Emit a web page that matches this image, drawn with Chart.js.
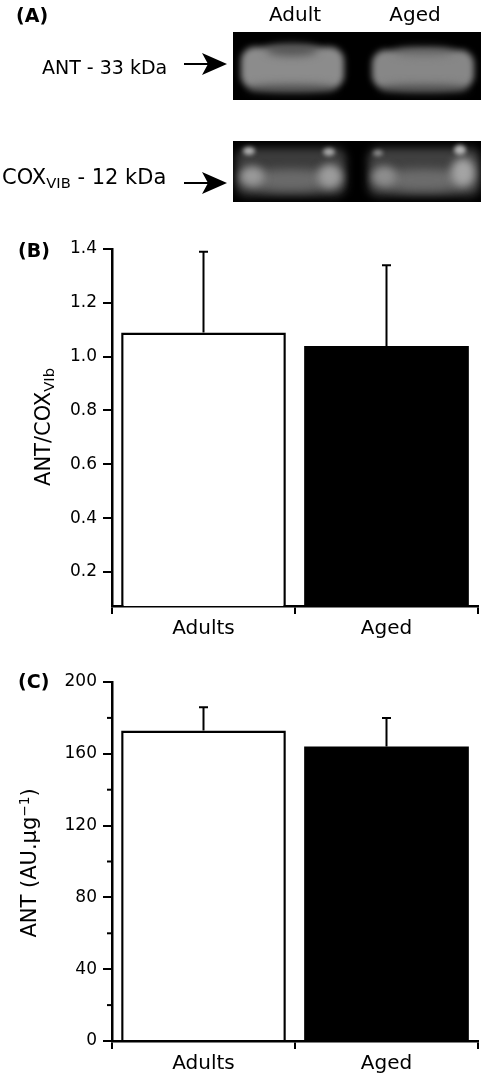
<!DOCTYPE html>
<html>
<head>
<meta charset="utf-8">
<script src="https://cdn.jsdelivr.net/npm/chart.js@4.4.0/dist/chart.umd.min.js"></script>
<style>
  html, body { margin: 0; padding: 0; background: #fff; }
  body { width: 481px; height: 1078px; position: relative; overflow: hidden;
         font-family: "DejaVu Sans", sans-serif; color: #000; }
  .lbl { position: absolute; white-space: nowrap; line-height: 1; }
  .panel { font-weight: bold; font-size: 19px; }
  .ytitle { position: absolute; white-space: nowrap; line-height: 1; font-size: 21px;
            transform: translate(-50%, -50%) rotate(-90deg); }
  .sub { font-size: 0.7em; position: relative; top: 0.3em; }
  .sup { font-size: 0.65em; position: relative; top: -0.55em; }
  canvas { position: absolute; left: 0; }
</style>
</head>
<body>
<canvas id="blot" width="481" height="230" style="top:0"></canvas>
<div class="lbl panel" style="left:16px; top:6px">(A)</div>
<div class="lbl" style="left:295px; top:4px; font-size:20px; transform:translateX(-50%)">Adult</div>
<div class="lbl" style="left:415px; top:4px; font-size:20px; transform:translateX(-50%)">Aged</div>
<div class="lbl" style="left:42px; top:58px; font-size:19px">ANT - 33 kDa</div>
<div class="lbl" style="left:2px; top:167px; font-size:21px">COX<span class="sub">VIB</span> - 12 kDa</div>

<canvas id="chartB" width="481" height="410" style="top:230px"></canvas>
<div class="lbl panel" style="left:18px; top:241px">(B)</div>
<div class="ytitle" style="left:43px; top:427px">ANT/COX<span class="sub">VIb</span></div>

<canvas id="chartC" width="481" height="418" style="top:660px"></canvas>
<div class="lbl panel" style="left:18px; top:672px">(C)</div>
<div class="ytitle" style="left:29px; top:863px">ANT (AU.µg<span class="sup">−1</span>)</div>

<script>
// categories
const groups = ["Adults", "Aged"];
const barColors = ["#ffffff", "#000000"];
const barBorders = [2.5, 0];

// panel B: ANT / COX VIb ratio
const ratioMeans = [1.09, 1.04];
const ratioErrors = [0.30, 0.30];
const ratioTicks = [0.2, 0.4, 0.6, 0.8, 1.0, 1.2, 1.4];

// panel C: ANT content
const antMeans = [173, 164];
const antErrors = [13, 16];
const antTicks = [0, 40, 80, 120, 160, 200];
const antMinorTicks = [20, 60, 100, 140, 180];

Chart.defaults.font.family = "'DejaVu Sans', sans-serif";
Chart.defaults.color = "#000";

// western blot picture for panel A
function drawBlots() {
    const c = document.getElementById("blot").getContext("2d");
    c.fillStyle = "#000";
    c.fillRect(233, 32, 248, 68);
    c.fillRect(233, 141, 248, 61);

    function blob(x, y, w, h, r, color, blur) {
        c.save();
        c.filter = "blur(" + blur + "px)";
        c.fillStyle = color;
        c.beginPath();
        c.roundRect(x, y, w, h, r);
        c.fill();
        c.restore();
    }
    function ell(x, y, rx, ry, color, blur) {
        c.save();
        c.filter = "blur(" + blur + "px)";
        c.fillStyle = color;
        c.beginPath();
        c.ellipse(x, y, rx, ry, 0, 0, Math.PI * 2);
        c.fill();
        c.restore();
    }

    // ANT bands
    c.save();
    c.beginPath();
    c.rect(233, 32, 248, 68);
    c.clip();
    blob(241, 47, 103, 42, 14, "#8c8c8c", 3);
    ell(292, 50, 26, 6, "#555555", 4);
    blob(372, 50, 102, 39, 14, "#878787", 3);
    ell(424, 52, 30, 4, "#6e6e6e", 4);
    ell(292, 88, 45, 4, "#5c5c5c", 4);
    ell(424, 88, 45, 4, "#5c5c5c", 4);
    c.restore();

    // COX VIb bands
    c.save();
    c.beginPath();
    c.rect(233, 141, 248, 61);
    c.clip();
    blob(236, 148, 110, 48, 10, "#3c3c3c", 4);
    blob(368, 148, 112, 48, 10, "#404040", 4);
    ell(291, 180, 50, 11, "#6a6a6a", 5);
    ell(424, 180, 50, 11, "#6c6c6c", 5);
    ell(252, 176, 12, 10, "#9a9a9a", 4);
    ell(330, 176, 12, 12, "#9c9c9c", 4);
    ell(384, 176, 12, 10, "#8e8e8e", 4);
    ell(463, 172, 12, 14, "#a4a4a4", 4);
    ell(249, 151, 6, 4, "#b0b0b0", 2);
    ell(329, 152, 6, 4, "#a8a8a8", 2);
    ell(378, 153, 5, 3, "#909090", 2);
    ell(460, 150, 6, 5, "#b4b4b4", 2);
    c.restore();

    // arrows
    function arrow(x0, tip, y) {
        c.strokeStyle = "#000";
        c.lineWidth = 2;
        c.beginPath();
        c.moveTo(x0, y);
        c.lineTo(tip - 12, y);
        c.stroke();
        c.fillStyle = "#000";
        c.beginPath();
        c.moveTo(tip, y);
        c.lineTo(tip - 25, y - 11);
        c.lineTo(tip - 19, y);
        c.lineTo(tip - 25, y + 11);
        c.closePath();
        c.fill();
    }
    arrow(184, 227, 64);
    arrow(184, 227, 183);
}
drawBlots();

const errorBars = {
    id: "errorBars",
    afterDatasetsDraw(chart, args, opts) {
        const ctx = chart.ctx;
        const yScale = chart.scales.y;
        const meta = chart.getDatasetMeta(0);
        const values = chart.data.datasets[0].data;
        ctx.save();
        ctx.strokeStyle = "#000";
        ctx.lineWidth = 2;
        meta.data.forEach((bar, i) => {
            const top = yScale.getPixelForValue(values[i] + opts.errors[i]);
            ctx.beginPath();
            ctx.moveTo(bar.x, bar.y);
            ctx.lineTo(bar.x, top);
            ctx.moveTo(bar.x - 4.5, top);
            ctx.lineTo(bar.x + 4.5, top);
            ctx.stroke();
        });
        ctx.restore();
    }
};

const minorTicks = {
    id: "minorTicks",
    afterDraw(chart, args, opts) {
        if (!opts.values) return;
        const ctx = chart.ctx;
        const yScale = chart.scales.y;
        ctx.save();
        ctx.strokeStyle = "#000";
        ctx.lineWidth = 2;
        opts.values.forEach(v => {
            const py = yScale.getPixelForValue(v);
            ctx.beginPath();
            ctx.moveTo(yScale.right - 5, py);
            ctx.lineTo(yScale.right, py);
            ctx.stroke();
        });
        ctx.restore();
    }
};

function barChart(id, means, errors, yOpts, padTop, xHeight, minor) {
    return new Chart(document.getElementById(id).getContext("2d"), {
        type: "bar",
        data: {
            labels: groups,
            datasets: [{
                data: means,
                backgroundColor: barColors,
                borderColor: "#000",
                borderWidth: barBorders,
                barPercentage: 0.9,
                categoryPercentage: 1.0
            }]
        },
        options: {
            responsive: false,
            animation: false,
            layout: { padding: { top: padTop, right: 3, left: 0, bottom: 0 } },
            plugins: {
                legend: { display: false },
                tooltip: { enabled: false },
                errorBars: { errors: errors },
                minorTicks: { values: minor }
            },
            scales: {
                x: {
                    offset: true,
                    grid: { offset: true, drawOnChartArea: false, drawTicks: true,
                            tickLength: 8, color: "#000", lineWidth: 2 },
                    border: { display: true, color: "#000", width: 2.5 },
                    ticks: { font: { size: 20 }, color: "#000", padding: 3, maxRotation: 0 },
                    afterFit: s => { s.height = xHeight; }
                },
                y: Object.assign({
                    grid: { drawOnChartArea: false, drawTicks: true,
                            tickLength: 9, color: "#000", lineWidth: 2 },
                    border: { display: true, color: "#000", width: 2.5 },
                    afterFit: s => { s.width = 112; }
                }, yOpts)
            }
        },
        plugins: [errorBars, minorTicks]
    });
}

barChart("chartB", ratioMeans, ratioErrors, {
    min: 0.0736,
    max: 1.4,
    afterBuildTicks: s => { s.ticks = ratioTicks.map(v => ({ value: v })); },
    ticks: { font: { size: 17 }, color: "#000", padding: 6, callback: v => v.toFixed(1) }
}, 19, 34, null);

barChart("chartC", antMeans, antErrors, {
    min: 0,
    max: 200,
    afterBuildTicks: s => { s.ticks = antTicks.map(v => ({ value: v })); },
    ticks: { font: { size: 17 }, color: "#000", padding: 6, callback: v => String(v) }
}, 22, 37, antMinorTicks);
</script>
</body>
</html>
